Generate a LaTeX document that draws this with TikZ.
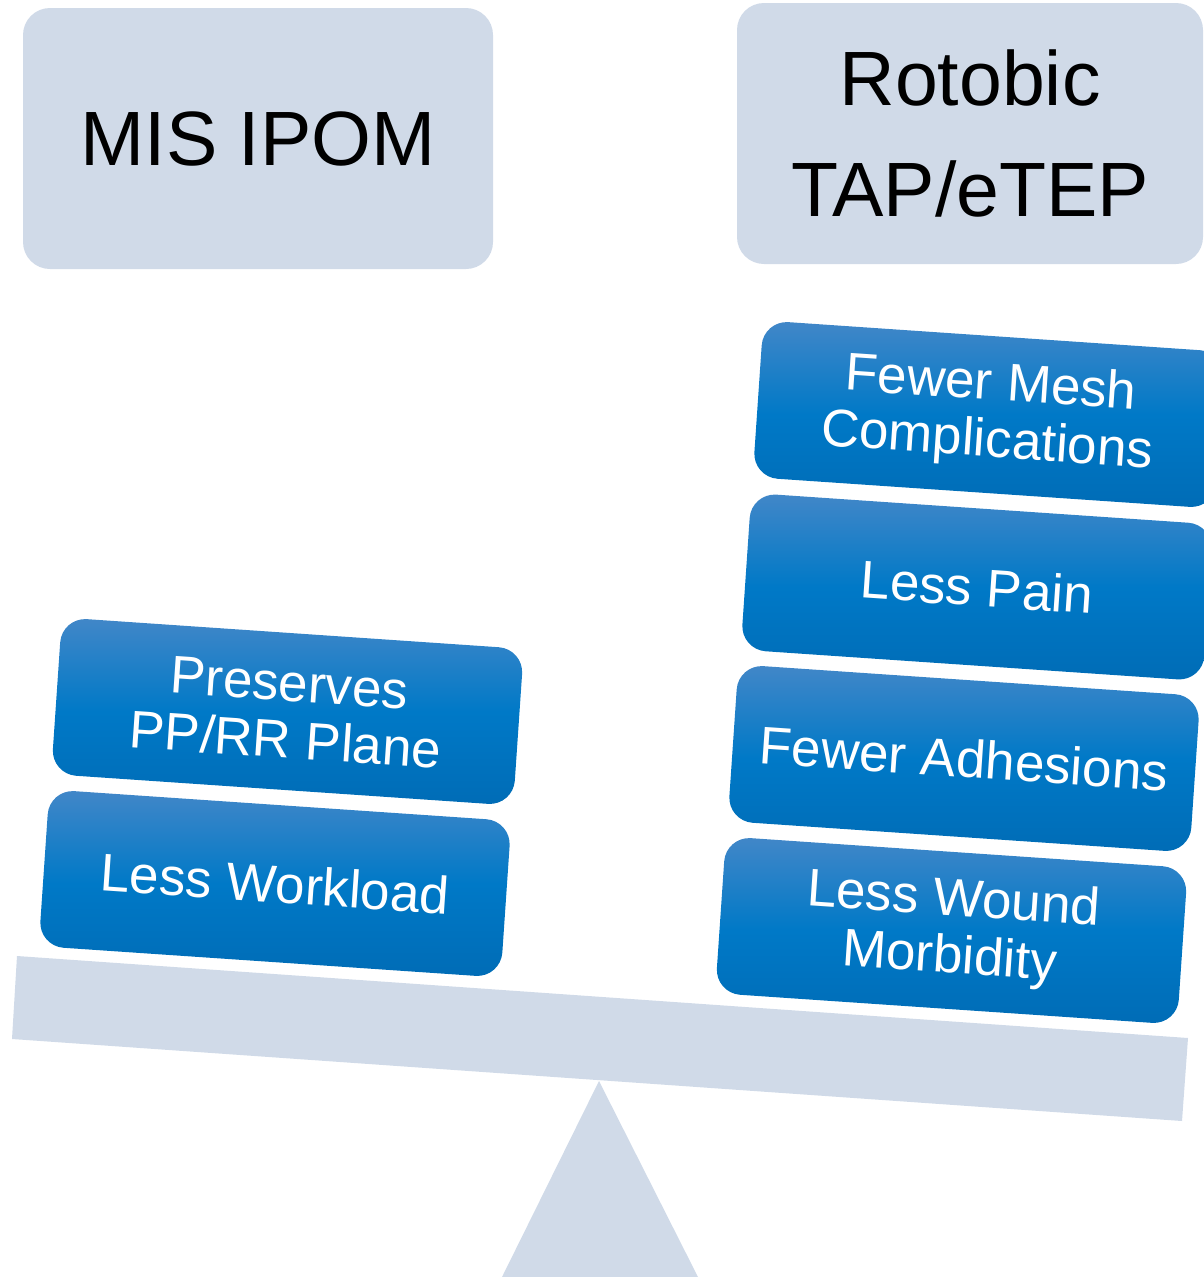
\documentclass[tikz,border=0pt]{standalone}
\usepackage{fontspec}
\setmainfont{Liberation Sans}
\definecolor{slate}{RGB}{208,218,232}
\definecolor{bluetop}{RGB}{66,135,200}
\definecolor{bluemid}{RGB}{0,121,199}
\definecolor{bluebot}{RGB}{0,108,182}
\tikzset{
  header/.style={fill=slate, rounded corners=27pt, inner sep=0pt,
    minimum height=261pt, align=center, text=black,
    font=\fontsize{77}{111}\selectfont},
  weight/.style={rounded corners=25pt, inner sep=0pt,
    minimum width=463pt, minimum height=157pt, align=center,
    top color=bluetop, bottom color=bluebot, middle color=bluemid,
    text=white, rotate=-3.9, font=\fontsize{53}{57}\selectfont},
}
\begin{document}
\begin{tikzpicture}[x=1pt,y=-1pt]
\useasboundingbox (0,0) rectangle (1203,1277);

% fulcrum and tilted beam
\fill[slate] (599,1081) -- (698,1277) -- (502,1277) -- cycle;
\fill[slate] (17,956) -- (1188,1038) -- (1182,1121) -- (12,1039) -- cycle;

% headers
\node[header, minimum width=470pt] (ipom) at (258,138.5) {MIS IPOM};
\node[header, minimum width=466pt] (robot) at (970,133.5) {Rotobic\\TAP/eTEP};

% left pan
\node[weight] (plane) at (287.5,711.5) {Preserves\\PP/RR Plane};
\node[weight] (work) at (275,883.5) {Less Workload};

% right pan
\node[weight] (mesh) at (989,414.5) {Fewer Mesh\\Complications};
\node[weight] (pain) at (977,587) {Less Pain};
\node[weight] (adh) at (964,758.5) {Fewer Adhesions};
\node[weight] (wound) at (951.5,930.5) {Less Wound\\Morbidity};
\end{tikzpicture}
\end{document}
